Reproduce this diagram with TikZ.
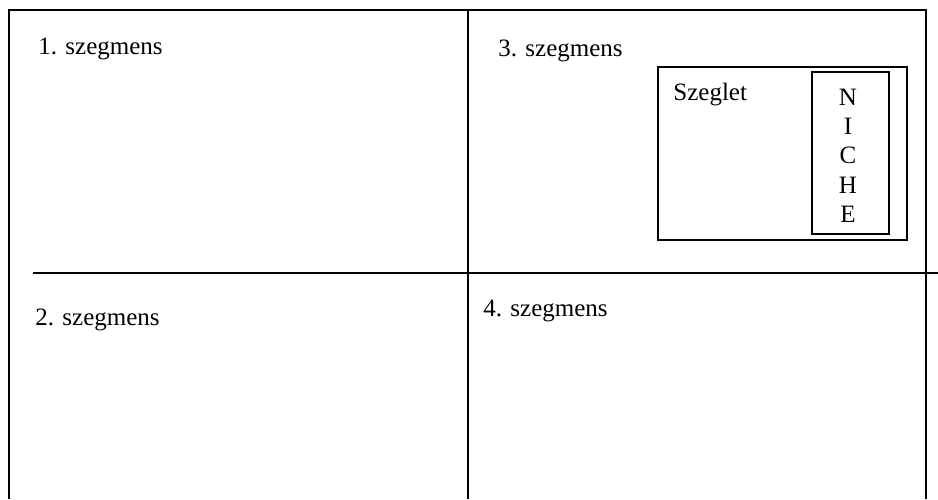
\documentclass[tikz,border=0pt]{standalone}
\usepackage{fontspec}
\setmainfont{Liberation Serif}
\usetikzlibrary{positioning}

\begin{document}
\begin{tikzpicture}[
  x=0.5pt,y=-0.5pt,
  grid/.style={line width=1pt,black},
  frame/.style={line width=0.9pt,black},
  lbl/.style={font=\fontsize{12.5}{15}\selectfont,inner sep=0pt},
]
\useasboundingbox (0,0) rectangle (938,499);
% quadrant lines
\coordinate (tl) at (9,10);
\coordinate (tr) at (926,10);
\coordinate (tm) at (468,10);
\draw[grid] (9,499) -- (tl) -- (tr) -- (926,499);
\draw[grid] (tm) -- (468,499);
\draw[grid] (33,273) -- (938,273);
% segment labels
\node[lbl,anchor=base west] (s1) at (38,54) {1. szegmens};
\node[lbl,anchor=base west] (s3) at (498,56) {3. szegmens};
\node[lbl,anchor=base west] (s2) at (35,325) {2. szegmens};
\node[lbl,anchor=base west] (s4) at (483,316) {4. szegmens};
% corner box with the niche inside
\draw[frame] (658,67) rectangle (907,240);
\node[lbl,anchor=base west] (szeglet) at (673,100) {Szeglet};
\draw[frame] (812,72) rectangle (889,234);
\foreach \l [count=\i] in {N,I,C,H,E}
  \node[lbl,anchor=base] (n\i) at (848,76+29.3*\i) {\l};
\end{tikzpicture}
\end{document}
